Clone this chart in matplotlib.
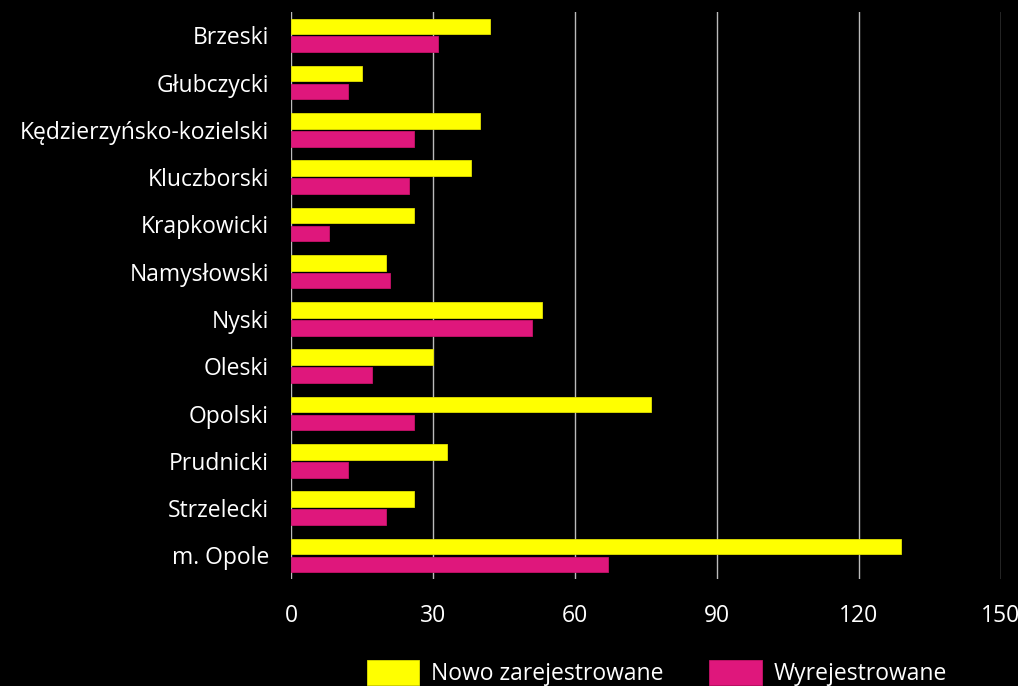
import numpy as np
import matplotlib.pyplot as plt

# dane
powiaty = ["Brzeski", "Głubczycki", "Kędzierzyńsko-kozielski", "Kluczborski",
           "Krapkowicki", "Namysłowski", "Nyski", "Oleski", "Opolski",
           "Prudnicki", "Strzelecki", "m. Opole"]
nowo = [42, 15, 40, 38, 26, 20, 53, 30, 76, 33, 26, 129]
wyrej = [31, 12, 26, 25, 8, 21, 51, 17, 26, 12, 20, 67]
ticks_x = [0, 30, 60, 90, 120, 150]

plt.rcParams['font.family'] = ['Open Sans', 'DejaVu Sans']

fig = plt.figure(figsize=(10.18, 6.86), dpi=100, facecolor='black')
ax = fig.add_axes([0.286, 0.156, 0.697, 0.827])
ax.set_facecolor('black')

y = np.arange(len(powiaty))
h = 0.33
ax.barh(y - 0.19, nowo, height=h, color='#FFFF00', edgecolor='#e0e000',
        linewidth=0.6, label="Nowo zarejestrowane", zorder=3)
ax.barh(y + 0.19, wyrej, height=h, color='#DF177C', edgecolor='#c8126a',
        linewidth=0.6, label="Wyrejestrowane", zorder=3)

ax.set_ylim(len(powiaty) - 0.5, -0.5)
ax.set_xlim(0, 150)
ax.set_xticks(ticks_x)
ax.set_yticks(y)
ax.set_yticklabels(powiaty, fontsize=16.5, color='white')
ax.tick_params(axis='x', colors='white', labelsize=16.5, length=0, pad=18)
ax.tick_params(axis='y', length=0, pad=16)

ax.grid(axis='x', color='#bbbbbb', linewidth=1, zorder=0)
for s in ax.spines.values():
    s.set_visible(False)

leg = fig.legend(loc='lower center', bbox_to_anchor=(0.645, -0.03), ncol=2,
                 frameon=False, fontsize=16.5, handlelength=2.3, handleheight=1.3,
                 columnspacing=2.0, handletextpad=0.5)
for t in leg.get_texts():
    t.set_color('white')

fig.savefig('out.png', facecolor='black')
